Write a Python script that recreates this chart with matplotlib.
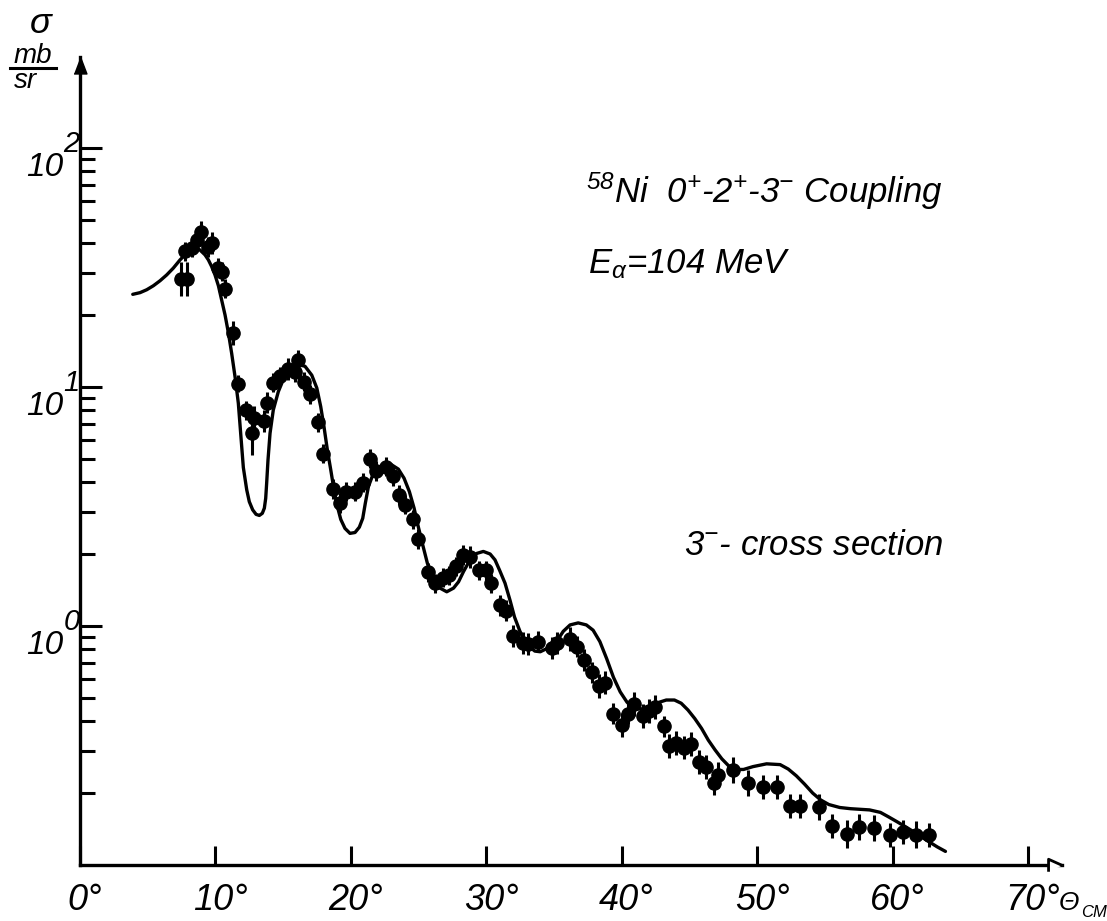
import matplotlib
matplotlib.use('Agg')
import matplotlib.pyplot as plt
from matplotlib.ticker import NullFormatter, NullLocator
from matplotlib.transforms import offset_copy, blended_transform_factory, ScaledTranslation
from matplotlib.lines import Line2D

# measured 3- cross sections (deg, mb/sr) and error bar half widths in decades
theta_exp = [7.5, 7.9, 7.8, 8.3, 8.7, 9.0, 9.5, 9.8, 10.2, 10.5,
             10.7, 11.3, 11.7, 12.3, 12.7, 12.9, 13.6, 13.8, 14.3, 14.8,
             15.4, 15.9, 16.1, 16.6, 17.0, 17.6, 18.0, 18.7, 19.2, 19.7,
             20.3, 20.9, 21.4, 21.9, 22.6, 23.1, 23.6, 24.0, 24.6, 25.0,
             25.7, 26.2, 26.8, 27.3, 27.8, 28.3, 28.8, 29.5, 30.0, 30.4,
             31.0, 31.5, 32.0, 32.7, 33.1, 33.8, 34.9, 35.2, 36.2, 36.7,
             37.2, 37.8, 38.3, 38.8, 39.4, 40.0, 40.5, 40.9, 41.6, 42.0,
             42.5, 43.1, 43.5, 44.0, 44.6, 45.1, 45.7, 46.2, 46.8, 47.1,
             48.2, 49.3, 50.4, 51.5, 52.4, 53.2, 54.6, 55.5, 56.6, 57.5,
             58.6, 59.8, 60.8, 61.7, 62.7]
sigma_exp = [28.3, 28.3, 37.0, 38.2, 41.2, 44.5, 38.5, 40.0, 31.5, 30.3,
             25.7, 16.8, 10.3, 8.0, 6.4, 7.4, 7.2, 8.6, 10.4, 11.1,
             11.9, 11.5, 13.0, 10.5, 9.3, 7.1, 5.25, 3.74, 3.27, 3.64,
             3.64, 3.97, 5.0, 4.45, 4.63, 4.24, 3.53, 3.21, 2.80, 2.31,
             1.68, 1.51, 1.59, 1.63, 1.78, 1.98, 1.94, 1.71, 1.71, 1.51,
             1.22, 1.16, 0.91, 0.85, 0.84, 0.86, 0.81, 0.85, 0.88, 0.82,
             0.72, 0.64, 0.56, 0.58, 0.43, 0.385, 0.43, 0.47, 0.42, 0.44,
             0.46, 0.38, 0.315, 0.324, 0.31, 0.32, 0.27, 0.257, 0.22, 0.238,
             0.25, 0.22, 0.212, 0.212, 0.177, 0.177, 0.175, 0.146, 0.135, 0.144,
             0.143, 0.134, 0.137, 0.134, 0.134]
err_dex = [0.07, 0.07, 0.04, 0.04, 0.04, 0.045, 0.04, 0.045, 0.04, 0.04,
           0.04, 0.05, 0.035, 0.04, 0.09, 0.05, 0.045, 0.045, 0.04, 0.04,
           0.045, 0.04, 0.04, 0.04, 0.04, 0.04, 0.04, 0.04, 0.04, 0.04,
           0.04, 0.04, 0.04, 0.04, 0.04, 0.04, 0.04, 0.04, 0.04, 0.04,
           0.04, 0.04, 0.04, 0.04, 0.04, 0.04, 0.045, 0.04, 0.04, 0.04,
           0.045, 0.045, 0.045, 0.045, 0.045, 0.045, 0.045, 0.045, 0.05, 0.045,
           0.045, 0.045, 0.05, 0.05, 0.045, 0.05, 0.045, 0.05, 0.05, 0.05,
           0.05, 0.045, 0.05, 0.05, 0.05, 0.05, 0.05, 0.05, 0.05, 0.055,
           0.055, 0.055, 0.05, 0.05, 0.05, 0.05, 0.055, 0.05, 0.06, 0.055,
           0.055, 0.05, 0.05, 0.055, 0.05]

# coupled channel calculation
theta_calc = [3.93, 4.47, 4.96, 5.45, 5.94, 6.43, 6.92, 7.42, 7.91, 8.28,
              8.6, 8.89, 9.26, 9.51, 9.75, 10.0, 10.25, 10.49, 10.74, 10.99,
              11.23, 11.48, 11.72, 11.85, 12.09, 12.34, 12.53, 12.78, 13.03, 13.27,
              13.49, 13.64, 13.74, 13.81, 13.91, 14.06, 14.30, 14.67, 15.17, 15.66,
              16.14, 16.64, 17.14, 17.51, 17.80, 18.04, 18.29, 18.54, 18.78, 19.03,
              19.28, 19.59, 19.96, 20.33, 20.65, 20.9, 21.09, 21.32, 21.64, 22.06,
              22.55, 23.04, 23.53, 23.95, 24.34, 24.69, 25.0, 25.33, 25.67, 26.04,
              26.6, 27.1, 27.6, 27.97, 28.34, 28.82, 29.3, 29.8, 30.3, 30.66,
              31.0, 31.4, 31.77, 32.1, 32.5, 32.9, 33.3, 33.6, 34.0, 34.6,
              35.2, 35.7, 36.2, 36.8, 37.4, 37.9, 38.4, 38.9, 39.4, 39.9,
              40.4, 40.9, 41.5, 42.0, 42.4, 42.8, 43.3, 43.9, 44.4, 44.9,
              45.4, 45.9, 46.4, 46.9, 47.4, 47.9, 48.4, 49.0, 49.7, 50.7,
              51.7, 52.3, 52.9, 53.5, 54.1, 54.7, 55.3, 56.1, 56.9, 57.6,
              58.3, 59.1, 59.7, 60.3, 61.0, 61.8, 62.5, 63.3, 63.9]
sigma_calc = [24.4, 24.8, 25.5, 26.5, 27.8, 29.4, 31.4, 34.0, 36.3, 37.7,
              38.1, 37.4, 35.7, 34.0, 31.9, 29.4, 26.5, 23.1, 20.0, 16.8,
              13.8, 11.0, 8.55, 6.9, 4.6, 3.71, 3.31, 3.06, 2.93, 2.90,
              2.96, 3.11, 3.42, 3.95, 4.95, 6.40, 8.01, 9.55, 11.2, 12.1,
              12.4, 12.2, 11.2, 9.9, 8.27, 6.82, 5.45, 4.50, 3.71, 3.16,
              2.79, 2.56, 2.44, 2.46, 2.59, 2.82, 3.26, 3.83, 4.28, 4.61,
              4.75, 4.72, 4.53, 4.15, 3.65, 3.11, 2.60, 2.18, 1.83, 1.61,
              1.44, 1.39, 1.44, 1.53, 1.69, 1.89, 2.01, 2.05, 2.0, 1.89,
              1.71, 1.51, 1.28, 1.09, 0.95, 0.86, 0.81, 0.785, 0.78, 0.81,
              0.86, 0.95, 1.01, 1.03, 1.01, 0.96, 0.86, 0.73, 0.61, 0.53,
              0.48, 0.45, 0.45, 0.46, 0.47, 0.48, 0.49, 0.49, 0.475, 0.445,
              0.41, 0.373, 0.333, 0.303, 0.278, 0.26, 0.251, 0.251, 0.258, 0.265,
              0.263, 0.252, 0.236, 0.218, 0.2, 0.187, 0.179, 0.174, 0.172, 0.171,
              0.17, 0.166, 0.159, 0.152, 0.144, 0.135, 0.127, 0.119, 0.114]

x_ticks = [0, 10, 20, 30, 40, 50, 60, 70]
y_major = [1, 10, 100]
y_exponents = ['0', '1', '2']
y_minor = [0.2, 0.3, 0.4, 0.5, 0.6, 0.7, 0.8, 0.9,
           2, 3, 4, 5, 6, 7, 8, 9,
           20, 30, 40, 50, 60, 70, 80, 90]

plt.rcParams['font.family'] = ['Liberation Sans', 'DejaVu Sans']
plt.rcParams['font.style'] = 'italic'
plt.rcParams['mathtext.fontset'] = 'custom'
plt.rcParams['mathtext.rm'] = 'Liberation Sans:italic'
plt.rcParams['mathtext.it'] = 'Liberation Sans:italic'
plt.rcParams['mathtext.sf'] = 'Liberation Sans:italic'
plt.rcParams['mathtext.bf'] = 'Liberation Sans:italic:bold'

W, H = 1107, 921
fig = plt.figure(figsize=(W / 100, H / 100), dpi=100)
ax = fig.add_axes([79.5 / W, 56 / H, (1062 - 79.5) / W, (865 - 57) / H])
ax.set_yscale('log')
ax.set_xlim(0, 72.5)
ax.set_ylim(0.1, 240)

# data with error bars
lo = [s - s / 10 ** e for s, e in zip(sigma_exp, err_dex)]
hi = [s * 10 ** e - s for s, e in zip(sigma_exp, err_dex)]
ax.errorbar(theta_exp, sigma_exp, yerr=[lo, hi], fmt='o', ms=9.5, color='black',
            ecolor='black', elinewidth=2.2, capsize=0, zorder=3)
ax.plot(theta_calc, sigma_calc, color='black', lw=2.4, solid_capstyle='round',
        solid_joinstyle='round', zorder=2)

# axes
for s in ['top', 'right']:
    ax.spines[s].set_visible(False)
for s in ['left', 'bottom']:
    ax.spines[s].set_linewidth(2.4)

ax.set_xticks(x_ticks)
ax.set_xticklabels([f'{v}°' for v in x_ticks], fontsize=26, fontstyle='italic')
ax.xaxis.set_minor_locator(NullLocator())
ax.tick_params(axis='x', which='major', direction='in', length=14, width=2.2, pad=13)
for lab in ax.get_xticklabels():
    lab.set_transform(lab.get_transform() + ScaledTranslation(5 / 100, 0, fig.dpi_scale_trans))

ax.set_yticks(y_major)
ax.set_yticks(y_minor, minor=True)
ax.yaxis.set_major_formatter(NullFormatter())
ax.yaxis.set_minor_formatter(NullFormatter())
ax.tick_params(axis='y', which='major', direction='in', length=16, width=2.2)
ax.tick_params(axis='y', which='minor', direction='in', length=10.5, width=2.2)

trans = blended_transform_factory(ax.transAxes, ax.transData)
for v, e in zip(y_major, y_exponents):
    ax.text(0, v, '10', transform=offset_copy(trans, fig=fig, x=-16, y=-4, units='dots'),
            ha='right', va='top', fontsize=24, fontstyle='italic')
    ax.text(0, v, e, transform=offset_copy(trans, fig=fig, x=-16, y=-4, units='dots'),
            ha='left', va='baseline', fontsize=21, fontstyle='italic')

# arrow heads on the axes
ax.plot([0], [1], marker=[(-0.38, -0.5), (0.38, -0.5), (0, 0.5)], ms=12.2, color='black',
        transform=offset_copy(ax.transAxes, fig=fig, y=-8.5, units='dots'), clip_on=False)
ax.plot([1], [0], marker=[(-0.5, -0.45), (-0.5, 0.45), (0.5, 0)], ms=10, mfc='white',
        mec='black', mew=2, transform=offset_copy(ax.transAxes, fig=fig, x=-7, units='dots'),
        clip_on=False, zorder=5)

def fpos(x, y):
    return x / W, 1 - y / H

# axis titles
fig.text(*fpos(41, 33), 'σ', ha='center', va='baseline', fontsize=26)
fig.text(*fpos(33, 63), 'mb', ha='center', va='baseline', fontsize=20)
fig.add_artist(Line2D([10 / W, 56 / W], [1 - 68 / H, 1 - 68 / H], transform=fig.transFigure,
                      lw=2.2, color='black'))
fig.text(*fpos(25, 88), 'sr', ha='center', va='baseline', fontsize=20)
fig.text(*fpos(1059, 910), 'Θ', ha='left', va='baseline', fontsize=19)
fig.text(*fpos(1081, 917), 'CM', ha='left', va='baseline', fontsize=12)

# annotations
fig.text(*fpos(943, 203), r'$^{58}$Ni  0$^{+}$-2$^{+}$-3$^{-}$ Coupling',
         ha='right', va='baseline', fontsize=25)
fig.text(*fpos(588, 273), r'E$_{\alpha}$=104 MeV', ha='left', va='baseline', fontsize=25)
fig.text(*fpos(943, 555), r'3$^{-}$- cross section', ha='right', va='baseline', fontsize=25)

fig.savefig('out.png', dpi=100, facecolor='white')
